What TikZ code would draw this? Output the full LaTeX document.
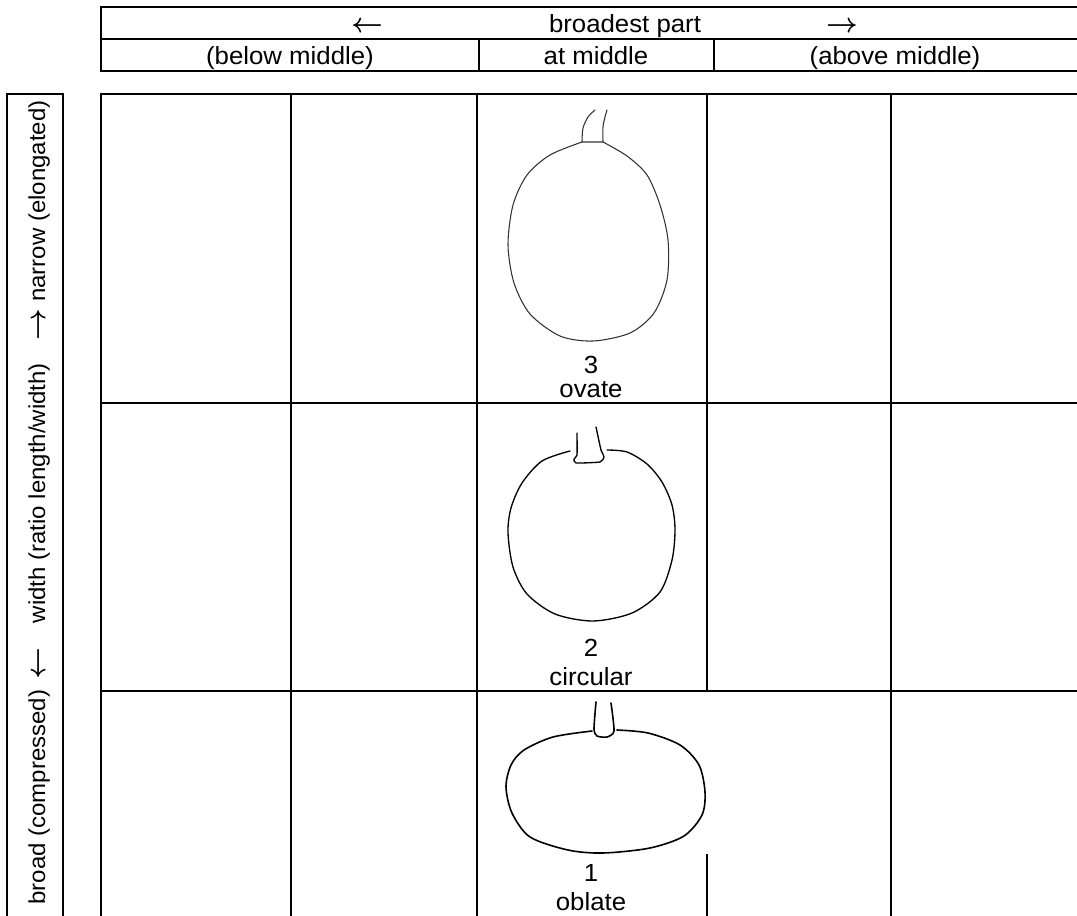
\documentclass[tikz,border=0pt]{standalone}
\usepackage{fontspec}
\setmainfont[FakeStretch=1.04]{Liberation Sans}
\usepackage{tikz}

\newcommand{\larr}{{\fontsize{21}{21}\selectfont\boldmath$\leftarrow$}}
\newcommand{\rarr}{{\fontsize{21}{21}\selectfont\boldmath$\rightarrow$}}

\begin{document}
\begin{tikzpicture}[x=0.75pt, y=-0.75pt,
  grid/.style={line width=1.5pt},
  fruit/.style={line width=1pt, line join=round, line cap=round},
  side/.style={rotate=90, font=\fontsize{17.3}{21}\selectfont},
  every node/.style={inner sep=0pt, anchor=base, font=\fontsize{18.6}{21}\selectfont}]
\useasboundingbox (0,0) rectangle (1077,916);
\clip (0,0) rectangle (1077,916);

% header
\draw [grid] (1085,7) -- (101,7) -- (101,71) -- (1085,71);
\draw [grid] (101,39) -- (1085,39);
\draw [grid] (479,39) -- (479,71);
\draw [grid] (714,39) -- (714,71);
\node (larrow) at (367,33) {\larr};
\node (broadest) at (625,33) {broadest part};
\node (rarrow) at (842,33) {\rarr};
\node (below) at (290,65) {(below middle)};
\node (atmid) at (596,65) {at middle};
\node (above) at (895,65) {(above middle)};

% side label
\draw [grid] (7,925) -- (7,94) -- (63,94) -- (63,925);
\node [side] (broad) at (45,797) {broad (compressed)};
\node [side] (darrow) at (45,664) {\larr};
\node [side] (ratio) at (45,493) {width (ratio length/width)};
\node [side] (uarrow) at (45,325) {\rarr};
\node [side] (narrow) at (45,201) {narrow (elongated)};

% grid
\draw [grid] (1085,94) -- (101,94) -- (101,925);
\draw [grid] (101,403) -- (1085,403);
\draw [grid] (101,691) -- (1085,691);
\foreach \x in {291,477,891}
  \draw [grid] (\x,94) -- (\x,925);
\draw [grid] (707,94) -- (707,691);
\draw [grid] (707,854) -- (707,925);

% ovate
\draw [fruit, line width=0.8pt, black!80] plot [smooth] coordinates {(603,142) (627,156) (647,175) (660,205) (668,240) (667,280) (654,313) (630,333) (593,341) (560,336) (530,314) (514,283) (508,245) (513,205) (527,175) (550,155) (582,142)} -- cycle;
\draw [fruit, line width=0.8pt, black!80] plot [smooth] coordinates {(582,142) (583,128) (588,117) (595,110)};
\draw [fruit, line width=0.8pt, black!80] plot [smooth] coordinates {(603,142) (603,127) (605,117) (607,110)};
\node (n3) at (591,373) {3};
\node (ovate) at (591,397) {ovate};

% circular
\draw [fruit] plot [smooth] coordinates {(607,450) (627,452) (647,464) (662,482) (672,505) (675,530) (672,560) (660,592) (632,613) (593,621) (555,614) (527,594) (513,567) (508,533) (511,508) (522,483) (542,461) (570,451)};
\draw [fruit] plot [smooth, tension=0.3] coordinates {(577,433) (577,455) (574,459) (576,463) (600,462) (604,457) (601,450) (596,427)};
\node (n2) at (591,656) {2};
\node (circular) at (591,685) {circular};

% oblate
\draw [fruit, line width=1.2pt] plot [smooth] coordinates {(617,730) (648,733) (680,745) (699,765) (705,792) (702,815) (684,836) (650,848) (603,853) (568,850) (530,837) (512,813) (506,787) (511,765) (524,750) (553,737) (592,731)};
\draw [fruit, line width=1.2pt] plot [smooth, tension=0.4] coordinates {(596,702) (594,729) (597,736) (607,737) (614,731) (611,703)};
\node (n1) at (591,881) {1};
\node (oblate) at (591,910) {oblate};
\end{tikzpicture}
\end{document}
